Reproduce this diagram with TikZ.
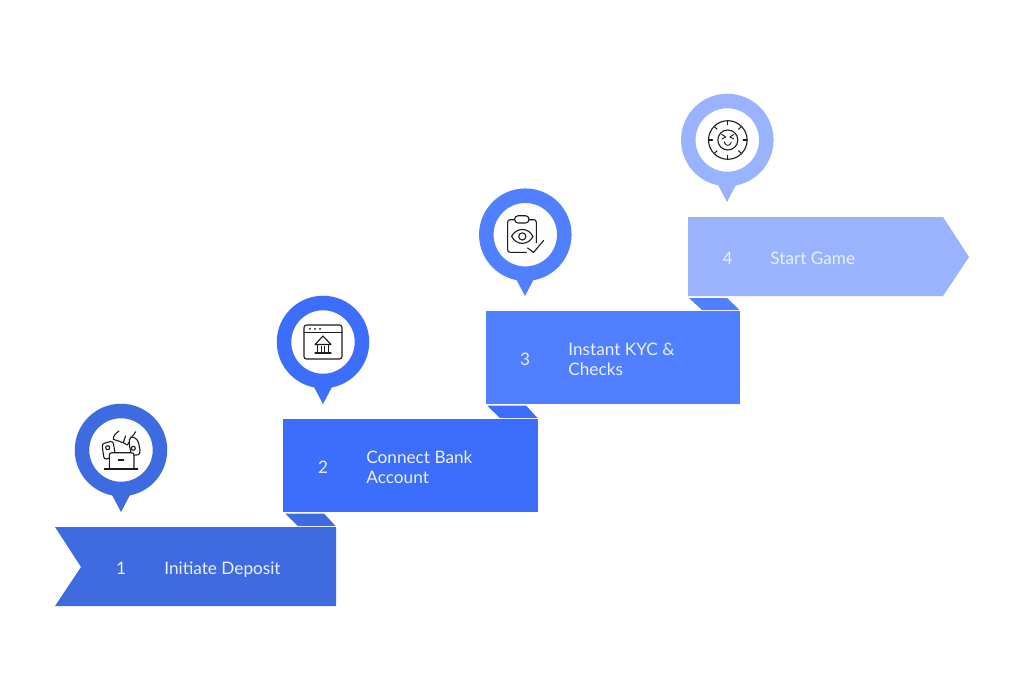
\documentclass[tikz,border=0pt]{standalone}
\usepackage{xcolor}
\usepackage{fontspec}
\setmainfont{Lato}
\usetikzlibrary{positioning,calc}
\definecolor{stepa}{HTML}{3F6BE0}
\definecolor{stepb}{HTML}{3D6EFB}
\definecolor{stepc}{HTML}{5080FF}
\definecolor{stepd}{HTML}{99B3FF}
\definecolor{txtcol}{HTML}{EAF0FF}
\definecolor{inkcol}{HTML}{1C1C1C}

\begin{document}
\begin{tikzpicture}[x=1pt, y=-1pt, node distance=38pt,
    stepnum/.style={text=txtcol, inner sep=0pt, font=\fontsize{17.2}{20}\selectfont},
    steptxt/.style={text=txtcol, inner sep=0pt, align=left, font=\fontsize{17.2}{20}\selectfont},
    pinhead/.style={circle, line width=14.5pt, fill=white, minimum size=78pt, inner sep=0pt},
    ink/.style={draw=inkcol, line width=1.1pt, line join=round, line cap=round}]
    \useasboundingbox (0,0) rectangle (1024,688);
    % Ribbons
    \fill [stepa] (55,527) -- (336,527) -- (336,606) -- (55,606) -- (81,567) -- cycle;
    \fill [stepb] (283,419) rectangle (538,512);
    \fill [stepc] (486,311) rectangle (740,404);
    \fill [stepd] (688,217) -- (943,217) -- (969,257) -- (943,296) -- (688,296) -- cycle;
    % Folds
    \fill [stepa] (285,513.5) -- (324,513.5) -- (335.5,526) -- (298,526) -- cycle;
    \fill [stepb] (487,405.5) -- (526,405.5) -- (537.5,418) -- (500,418) -- cycle;
    \fill [stepc] (689,298) -- (727,298) -- (739.5,310) -- (702,310) -- cycle;
    % Texts
    \node [stepnum] (num1) at (121,568) {1};
    \node [steptxt, base right=38pt of num1] (txt1) {Initiate Deposit};
    \node [stepnum] (num2) at (323,467) {2};
    \node [steptxt, right=38pt of num2] (txt2) {Connect Bank\\Account};
    \node [stepnum] (num3) at (525,359) {3};
    \node [steptxt, right=38pt of num3] (txt3) {Instant KYC \&\\Checks};
    \node [stepnum] (num4) at (727.5,258) {4};
    \node [steptxt, base right=37.5pt of num4] (txt4) {Start Game};
    % Pins
    \fill [stepa] (111.5,494) -- (121,512) -- (130.5,494) -- cycle;
    \node [pinhead, draw=stepa] (pin1) at (121,450) {};
    \fill [stepb] (313.5,386) -- (323,404) -- (332.5,386) -- cycle;
    \node [pinhead, draw=stepb] (pin2) at (323,342) {};
    \fill [stepc] (515.5,278) -- (525,296) -- (534.5,278) -- cycle;
    \node [pinhead, draw=stepc] (pin3) at (525.3,234.7) {};
    \fill [stepd] (717.5,184) -- (727,202) -- (736.5,184) -- cycle;
    \node [pinhead, draw=stepd] (pin4) at (727.3,140) {};
    % Icon 1
    \begin{scope}[shift={(pin1.center)}]
        \draw [ink] (-11.7,19) -- (-11.7,5) .. controls (-11.7,3.2) and (-10.5,2.7) .. (-9,2.7) -- (10,2.7) .. controls (12,2.7) and (13,3.5) .. (13,5) -- (13,19);
        \draw [ink] (-16.7,19) -- (16.7,19);
        \draw [ink] (-2.7,10) -- (2.7,10);
        % left card
        \draw [ink] (-11.7,8) -- (-14.5,9) .. controls (-16.5,9.3) and (-17,8) .. (-17.3,6.5) -- (-18.7,-3) .. controls (-19,-5.5) and (-18,-6.5) .. (-16.5,-6.8) -- (-10.5,-8.5) .. controls (-8.5,-8.8) and (-8,-7.5) .. (-7.5,-6) -- (-6,2.7);
        \draw [ink] (-13.3,-2.3) circle (2pt);
        % right card
        \draw [ink] (10,2.7) -- (8.3,-5) -- (8.3,-10) .. controls (9,-12.5) and (11,-13.5) .. (13,-12.7) .. controls (15.5,-11.5) and (17,-9) .. (17.5,-7.5) -- (19,0) .. controls (19.3,3) and (18.5,4.5) .. (17,4.8) -- (13,5.2);
        \draw [ink] (12.3,-1.7) circle (2pt);
        % hand
        \draw [ink] (-7.7,-10.7) .. controls (-7.7,-15) and (-5,-16.5) .. (-2,-19);
        \draw [ink] (-7.7,-10.7) -- (2.3,-7.3) -- (6.3,-5) -- (8.3,-8);
        \draw [ink] (2.3,-7.3) .. controls (3,-10) and (4,-12) .. (4.5,-14);
        \draw [ink] (10,-12.5) .. controls (11.5,-14) and (13.5,-16) .. (14.7,-18.3);
    \end{scope}
    % Icon 2
    \begin{scope}[shift={(pin2.center)}]
        \draw [ink, rounded corners=2.5pt] (-19,-17) rectangle (19,17);
        \draw [ink] (-19,-9.5) -- (19,-9.5);
        \fill [inkcol] (-13,-13.2) circle (1pt) (-8,-13.2) circle (1pt) (-3,-13.2) circle (1pt);
        \draw [ink] (-8,2.5) -- (0,-6) -- (8,2.5) -- cycle;
        \draw [ink] (-5.5,2.5) -- (-5.5,11) (-1.8,4.5) -- (-1.8,11) (1.8,4.5) -- (1.8,11) (5.5,2.5) -- (5.5,11);
        \draw [ink] (-8,11) -- (8,11);
    \end{scope}
    % Icon 3
    \begin{scope}[shift={(pin3.center)}]
        \draw [ink, rounded corners=2.5pt] (-10.7,-15) -- (-17.7,-15) -- (-17.7,17.7) -- (1,17.7);
        \draw [ink, rounded corners=2.5pt] (3.7,-15) -- (11,-15) -- (11,8);
        \draw [ink, rounded corners=3.5pt] (-10.7,-19) rectangle (3.7,-11.7);
        \draw [ink] (-13.7,1.7) .. controls (-9,-7.6) and (3,-7.6) .. (7.7,1.7) .. controls (3,11) and (-9,11) .. (-13.7,1.7) -- cycle;
        \draw [ink] (-3,1.7) circle (3.6pt);
        \draw [ink] (2.3,13.3) -- (8.3,17.7) -- (18.3,5.7);
    \end{scope}
    % Icon 4
    \begin{scope}[shift={(pin4.center)}]
        \draw [ink] (0.5,0) circle (19.3pt);
        \draw [ink] (0.5,0) circle (10pt);
        \foreach \ang in {0,45,...,315} {
            \draw [ink] ($(0.5,0)+(\ang:19.3pt)$) -- ($(0.5,0)+(\ang:15.3pt)$);
        }
        \draw [ink, line width=0.9pt] (-5.5,-5.5) -- (-1.5,-3) -- (-5.5,-1);
        \draw [ink, line width=0.9pt] (6.5,-5.5) -- (2.5,-3) -- (6.5,-1);
        \draw [ink, line width=0.9pt] (-3,2) .. controls (-2,6.5) and (3,6.5) .. (4,2);
    \end{scope}
\end{tikzpicture}
\end{document}
